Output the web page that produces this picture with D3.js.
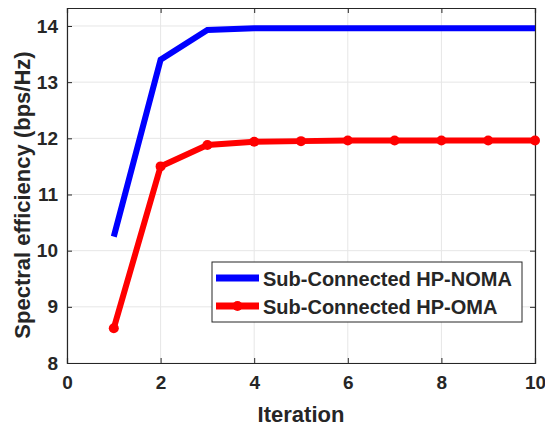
<!DOCTYPE html>
<html>
<head>
<meta charset="utf-8">
<script src="https://cdn.jsdelivr.net/npm/d3@7"></script>
<style>
  body { margin: 0; background: #fff; }
  text { font-family: "Liberation Sans", Arial, sans-serif; font-weight: bold; fill: #262626; }
</style>
</head>
<body>
<div id="chart"></div>
<script>
// datos
var iteraciones = [1, 2, 3, 4, 5, 6, 7, 8, 9, 10];
var noma = [10.25, 13.4, 13.93, 13.96, 13.96, 13.96, 13.96, 13.96, 13.96, 13.96];
var oma = [8.62, 11.5, 11.88, 11.94, 11.95, 11.96, 11.96, 11.96, 11.96, 11.96];
var xTicks = [0, 2, 4, 6, 8, 10];
var yTicks = [8, 9, 10, 11, 12, 13, 14];
var nombres = ["Sub-Connected HP-NOMA", "Sub-Connected HP-OMA"];

var margin = { top: 8, right: 10, bottom: 63, left: 67 },
    width = 545 - margin.left - margin.right,
    height = 426 - margin.top - margin.bottom;

var svg = d3.select("#chart").append("svg")
    .attr("width", 545)
    .attr("height", 426)
    .append("g")
    .attr("transform", "translate(" + margin.left + "," + margin.top + ")");

var x = d3.scaleLinear().domain([0, 10]).range([0, width]);
var y = d3.scaleLinear().domain([8, 14.32]).range([height, 0]);

// grid
svg.append("g")
    .selectAll("line.gx")
    .data(xTicks)
    .enter().append("line")
    .attr("x1", d => x(d)).attr("x2", d => x(d))
    .attr("y1", 0).attr("y2", height)
    .attr("stroke", "#e6e6e6").attr("stroke-width", 1);
svg.append("g")
    .selectAll("line.gy")
    .data(yTicks)
    .enter().append("line")
    .attr("x1", 0).attr("x2", width)
    .attr("y1", d => y(d)).attr("y2", d => y(d))
    .attr("stroke", "#e6e6e6").attr("stroke-width", 1);

// ejes
var ejeX = svg.append("g")
    .attr("transform", "translate(0," + height + ")")
    .call(d3.axisBottom(x).tickValues(xTicks).tickSize(-5).tickPadding(13).tickFormat(d3.format("d")));
var ejeY = svg.append("g")
    .call(d3.axisLeft(y).tickValues(yTicks).tickSize(-5).tickPadding(9).tickFormat(d3.format("d")));
svg.append("g")
    .call(d3.axisTop(x).tickValues(xTicks).tickSize(-5).tickFormat(""));
svg.append("g")
    .attr("transform", "translate(" + width + ",0)")
    .call(d3.axisRight(y).tickValues(yTicks).tickSize(-5).tickFormat(""));

svg.selectAll(".domain").attr("stroke", "#262626").attr("stroke-width", 1.2);
svg.selectAll(".tick line").attr("stroke", "#262626");
svg.selectAll(".tick text")
    .style("font-size", "19px")
    .style("font-family", "Liberation Sans, Arial, sans-serif")
    .style("font-weight", "bold")
    .attr("fill", "#262626");

// etiquetas
svg.append("text")
    .attr("x", width / 2)
    .attr("y", height + 59)
    .attr("text-anchor", "middle")
    .style("font-size", "22px")
    .text("Iteration");
svg.append("text")
    .attr("transform", "rotate(-90)")
    .attr("x", -(195 - margin.top))
    .attr("y", -37)
    .attr("text-anchor", "middle")
    .style("font-size", "22px")
    .text("Spectral efficiency (bps/Hz)");

// lineas
var linea = d3.line()
    .x(function (d, i) { return x(iteraciones[i]); })
    .y(function (d) { return y(d); });

svg.append("path")
    .datum(noma)
    .attr("d", linea)
    .attr("fill", "none")
    .attr("stroke", "#0000ff")
    .attr("stroke-width", 6);

svg.append("path")
    .datum(oma)
    .attr("d", linea)
    .attr("fill", "none")
    .attr("stroke", "#ff0000")
    .attr("stroke-width", 6);

svg.selectAll(".puntoOma")
    .data(oma)
    .enter().append("circle")
    .attr("class", "puntoOma")
    .attr("cx", function (d, i) { return x(iteraciones[i]); })
    .attr("cy", function (d) { return y(d); })
    .attr("r", 5)
    .attr("fill", "#ff0000");

// leyenda
var lx = 212 - margin.left, ly = 262 - margin.top;
var leyenda = svg.append("g").attr("transform", "translate(" + lx + "," + ly + ")");
leyenda.append("rect")
    .attr("width", 310).attr("height", 60)
    .attr("fill", "#fff").attr("stroke", "#262626").attr("stroke-width", 1);
var colores = ["#0000ff", "#ff0000"];
nombres.forEach(function (n, i) {
    var yy = 16 + i * 28;
    leyenda.append("line")
        .attr("x1", 4).attr("x2", 47)
        .attr("y1", yy).attr("y2", yy)
        .attr("stroke", colores[i]).attr("stroke-width", 7);
    if (i == 1) {
        leyenda.append("circle").attr("cx", 25.5).attr("cy", yy).attr("r", 5).attr("fill", "#ff0000");
    }
    leyenda.append("text")
        .attr("x", 51).attr("y", yy + 8)
        .style("font-size", "20px")
        .attr("fill", "#000")
        .text(n);
});
</script>
</body>
</html>
